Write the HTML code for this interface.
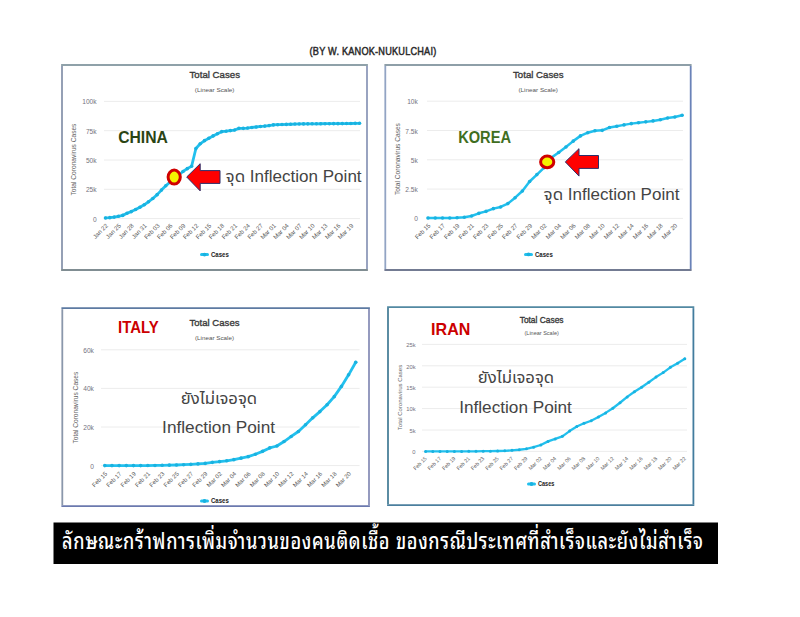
<!DOCTYPE html>
<html><head><meta charset="utf-8"><title>Inflection Point</title>
<style>
html,body{margin:0;padding:0;background:#fff;width:800px;height:617px;overflow:hidden}
svg{display:block}
text{font-family:'Liberation Sans', sans-serif}
</style></head>
<body>
<svg width="800" height="617" viewBox="0 0 800 617">
<text transform="translate(309.6,54.8) scale(0.9,1)" x="0" y="0" font-size="10.2" fill="#2a2a2a" stroke="#2a2a2a" stroke-width="0.45" textLength="140.7" lengthAdjust="spacing">(BY W. KANOK-NUKULCHAI)</text>
<rect x="62" y="65" width="305.00" height="205.00" fill="#fff"/>
<line x1="61.1" y1="65" x2="367.9" y2="65" stroke="#8fa1a9" stroke-width="1.8"/>
<line x1="61.1" y1="270" x2="367.9" y2="270" stroke="#808d92" stroke-width="1.8"/>
<line x1="62" y1="65.9" x2="62" y2="269.1" stroke="#8a96ad" stroke-width="1.8"/>
<line x1="367" y1="65.9" x2="367" y2="269.1" stroke="#8e9aba" stroke-width="1.8"/>
<line x1="104" y1="101.4" x2="360" y2="101.4" stroke="#ececec" stroke-width="1"/>
<text x="96.6" y="104.48" text-anchor="end" font-size="6.6" fill="#74727e">100k</text>
<line x1="104" y1="130.7" x2="360" y2="130.7" stroke="#ececec" stroke-width="1"/>
<text x="96.6" y="133.78" text-anchor="end" font-size="6.6" fill="#74727e">75k</text>
<line x1="104" y1="160.0" x2="360" y2="160.0" stroke="#ececec" stroke-width="1"/>
<text x="96.6" y="163.08" text-anchor="end" font-size="6.6" fill="#74727e">50k</text>
<line x1="104" y1="189.3" x2="360" y2="189.3" stroke="#ececec" stroke-width="1"/>
<text x="96.6" y="192.38" text-anchor="end" font-size="6.6" fill="#74727e">25k</text>
<line x1="104" y1="218.6" x2="360" y2="218.6" stroke="#ececec" stroke-width="1"/>
<text x="96.6" y="221.68" text-anchor="end" font-size="6.6" fill="#74727e">0</text>
<text transform="translate(76.3,159.5) rotate(-90)" text-anchor="middle" font-size="6.6" fill="#666">Total Coronavirus Cases</text>
<text x="189.5" y="77.5" font-size="9.8" fill="#3a3a3a" stroke="#3a3a3a" stroke-width="0.35" textLength="50.5" lengthAdjust="spacingAndGlyphs">Total Cases</text>
<text x="194.8" y="91.6" font-size="6" fill="#555" textLength="39.7" lengthAdjust="spacingAndGlyphs">(Linear Scale)</text>
<path d="M105.50,217.93 L109.81,217.63 L114.11,217.09 L118.41,216.29 L122.72,215.38 L127.03,213.31 L131.33,211.60 L135.63,209.56 L139.94,207.24 L144.25,204.78 L148.55,201.75 L152.85,198.44 L157.16,194.65 L161.47,190.09 L165.77,185.76 L170.07,182.08 L174.38,178.11 L178.69,175.00 L182.99,171.52 L187.29,168.63 L191.60,166.27 L195.91,148.51 L200.21,143.77 L204.51,140.67 L208.82,138.32 L213.12,135.92 L217.43,133.71 L221.73,131.66 L226.04,131.20 L230.34,130.61 L234.65,130.06 L238.95,128.35 L243.26,128.33 L247.56,128.07 L251.87,127.47 L256.17,126.99 L260.48,126.48 L264.78,126.10 L269.09,125.59 L273.39,124.92 L277.70,124.68 L282.00,124.53 L286.31,124.39 L290.62,124.26 L294.92,124.06 L299.23,123.94 L303.53,123.89 L307.83,123.83 L312.14,123.81 L316.44,123.78 L320.75,123.75 L325.05,123.72 L329.36,123.70 L333.66,123.67 L337.97,123.64 L342.27,123.61 L346.58,123.55 L350.88,123.49 L355.19,123.37 L359.50,123.31" fill="none" stroke="#22c0ee" stroke-width="2.8" stroke-linejoin="round" stroke-linecap="round"/>
<circle cx="105.50" cy="217.93" r="1.8" fill="#19b2e0"/>
<circle cx="109.81" cy="217.63" r="1.8" fill="#19b2e0"/>
<circle cx="114.11" cy="217.09" r="1.8" fill="#19b2e0"/>
<circle cx="118.41" cy="216.29" r="1.8" fill="#19b2e0"/>
<circle cx="122.72" cy="215.38" r="1.8" fill="#19b2e0"/>
<circle cx="127.03" cy="213.31" r="1.8" fill="#19b2e0"/>
<circle cx="131.33" cy="211.60" r="1.8" fill="#19b2e0"/>
<circle cx="135.63" cy="209.56" r="1.8" fill="#19b2e0"/>
<circle cx="139.94" cy="207.24" r="1.8" fill="#19b2e0"/>
<circle cx="144.25" cy="204.78" r="1.8" fill="#19b2e0"/>
<circle cx="148.55" cy="201.75" r="1.8" fill="#19b2e0"/>
<circle cx="152.85" cy="198.44" r="1.8" fill="#19b2e0"/>
<circle cx="157.16" cy="194.65" r="1.8" fill="#19b2e0"/>
<circle cx="161.47" cy="190.09" r="1.8" fill="#19b2e0"/>
<circle cx="165.77" cy="185.76" r="1.8" fill="#19b2e0"/>
<circle cx="170.07" cy="182.08" r="1.8" fill="#19b2e0"/>
<circle cx="174.38" cy="178.11" r="1.8" fill="#19b2e0"/>
<circle cx="178.69" cy="175.00" r="1.8" fill="#19b2e0"/>
<circle cx="182.99" cy="171.52" r="1.8" fill="#19b2e0"/>
<circle cx="187.29" cy="168.63" r="1.8" fill="#19b2e0"/>
<circle cx="191.60" cy="166.27" r="1.8" fill="#19b2e0"/>
<circle cx="195.91" cy="148.51" r="1.8" fill="#19b2e0"/>
<circle cx="200.21" cy="143.77" r="1.8" fill="#19b2e0"/>
<circle cx="204.51" cy="140.67" r="1.8" fill="#19b2e0"/>
<circle cx="208.82" cy="138.32" r="1.8" fill="#19b2e0"/>
<circle cx="213.12" cy="135.92" r="1.8" fill="#19b2e0"/>
<circle cx="217.43" cy="133.71" r="1.8" fill="#19b2e0"/>
<circle cx="221.73" cy="131.66" r="1.8" fill="#19b2e0"/>
<circle cx="226.04" cy="131.20" r="1.8" fill="#19b2e0"/>
<circle cx="230.34" cy="130.61" r="1.8" fill="#19b2e0"/>
<circle cx="234.65" cy="130.06" r="1.8" fill="#19b2e0"/>
<circle cx="238.95" cy="128.35" r="1.8" fill="#19b2e0"/>
<circle cx="243.26" cy="128.33" r="1.8" fill="#19b2e0"/>
<circle cx="247.56" cy="128.07" r="1.8" fill="#19b2e0"/>
<circle cx="251.87" cy="127.47" r="1.8" fill="#19b2e0"/>
<circle cx="256.17" cy="126.99" r="1.8" fill="#19b2e0"/>
<circle cx="260.48" cy="126.48" r="1.8" fill="#19b2e0"/>
<circle cx="264.78" cy="126.10" r="1.8" fill="#19b2e0"/>
<circle cx="269.09" cy="125.59" r="1.8" fill="#19b2e0"/>
<circle cx="273.39" cy="124.92" r="1.8" fill="#19b2e0"/>
<circle cx="277.70" cy="124.68" r="1.8" fill="#19b2e0"/>
<circle cx="282.00" cy="124.53" r="1.8" fill="#19b2e0"/>
<circle cx="286.31" cy="124.39" r="1.8" fill="#19b2e0"/>
<circle cx="290.62" cy="124.26" r="1.8" fill="#19b2e0"/>
<circle cx="294.92" cy="124.06" r="1.8" fill="#19b2e0"/>
<circle cx="299.23" cy="123.94" r="1.8" fill="#19b2e0"/>
<circle cx="303.53" cy="123.89" r="1.8" fill="#19b2e0"/>
<circle cx="307.83" cy="123.83" r="1.8" fill="#19b2e0"/>
<circle cx="312.14" cy="123.81" r="1.8" fill="#19b2e0"/>
<circle cx="316.44" cy="123.78" r="1.8" fill="#19b2e0"/>
<circle cx="320.75" cy="123.75" r="1.8" fill="#19b2e0"/>
<circle cx="325.05" cy="123.72" r="1.8" fill="#19b2e0"/>
<circle cx="329.36" cy="123.70" r="1.8" fill="#19b2e0"/>
<circle cx="333.66" cy="123.67" r="1.8" fill="#19b2e0"/>
<circle cx="337.97" cy="123.64" r="1.8" fill="#19b2e0"/>
<circle cx="342.27" cy="123.61" r="1.8" fill="#19b2e0"/>
<circle cx="346.58" cy="123.55" r="1.8" fill="#19b2e0"/>
<circle cx="350.88" cy="123.49" r="1.8" fill="#19b2e0"/>
<circle cx="355.19" cy="123.37" r="1.8" fill="#19b2e0"/>
<circle cx="359.50" cy="123.31" r="1.8" fill="#19b2e0"/>
<text transform="translate(108.40,226.2) rotate(-45)" text-anchor="end" font-size="6.1" fill="#555">Jan 22</text>
<text transform="translate(121.31,226.2) rotate(-45)" text-anchor="end" font-size="6.1" fill="#555">Jan 25</text>
<text transform="translate(134.23,226.2) rotate(-45)" text-anchor="end" font-size="6.1" fill="#555">Jan 28</text>
<text transform="translate(147.15,226.2) rotate(-45)" text-anchor="end" font-size="6.1" fill="#555">Jan 31</text>
<text transform="translate(160.06,226.2) rotate(-45)" text-anchor="end" font-size="6.1" fill="#555">Feb 03</text>
<text transform="translate(172.97,226.2) rotate(-45)" text-anchor="end" font-size="6.1" fill="#555">Feb 06</text>
<text transform="translate(185.89,226.2) rotate(-45)" text-anchor="end" font-size="6.1" fill="#555">Feb 09</text>
<text transform="translate(198.81,226.2) rotate(-45)" text-anchor="end" font-size="6.1" fill="#555">Feb 12</text>
<text transform="translate(211.72,226.2) rotate(-45)" text-anchor="end" font-size="6.1" fill="#555">Feb 15</text>
<text transform="translate(224.63,226.2) rotate(-45)" text-anchor="end" font-size="6.1" fill="#555">Feb 18</text>
<text transform="translate(237.55,226.2) rotate(-45)" text-anchor="end" font-size="6.1" fill="#555">Feb 21</text>
<text transform="translate(250.47,226.2) rotate(-45)" text-anchor="end" font-size="6.1" fill="#555">Feb 24</text>
<text transform="translate(263.38,226.2) rotate(-45)" text-anchor="end" font-size="6.1" fill="#555">Feb 27</text>
<text transform="translate(276.29,226.2) rotate(-45)" text-anchor="end" font-size="6.1" fill="#555">Mar 01</text>
<text transform="translate(289.21,226.2) rotate(-45)" text-anchor="end" font-size="6.1" fill="#555">Mar 04</text>
<text transform="translate(302.12,226.2) rotate(-45)" text-anchor="end" font-size="6.1" fill="#555">Mar 07</text>
<text transform="translate(315.04,226.2) rotate(-45)" text-anchor="end" font-size="6.1" fill="#555">Mar 10</text>
<text transform="translate(327.95,226.2) rotate(-45)" text-anchor="end" font-size="6.1" fill="#555">Mar 13</text>
<text transform="translate(340.87,226.2) rotate(-45)" text-anchor="end" font-size="6.1" fill="#555">Mar 16</text>
<text transform="translate(353.78,226.2) rotate(-45)" text-anchor="end" font-size="6.1" fill="#555">Mar 19</text>
<line x1="201.5" y1="254.6" x2="207.5" y2="254.6" stroke="#22c0ee" stroke-width="3" stroke-linecap="round"/>
<circle cx="204.5" cy="254.6" r="1.9" fill="#19b2e0"/>
<text x="211.0" y="257.0" font-size="7.0" font-weight="bold" fill="#222" textLength="17.8" lengthAdjust="spacingAndGlyphs">Cases</text>
<rect x="385.3" y="65" width="305.40" height="205.00" fill="#fff"/>
<line x1="384.40000000000003" y1="65" x2="691.6" y2="65" stroke="#8e9fa8" stroke-width="1.8"/>
<line x1="384.40000000000003" y1="270" x2="691.6" y2="270" stroke="#737b92" stroke-width="1.8"/>
<line x1="385.3" y1="65.9" x2="385.3" y2="269.1" stroke="#92a4c4" stroke-width="1.8"/>
<line x1="690.7" y1="65.9" x2="690.7" y2="269.1" stroke="#6a82b8" stroke-width="1.8"/>
<line x1="427" y1="101.2" x2="683" y2="101.2" stroke="#ececec" stroke-width="1"/>
<text x="417.8" y="104.28" text-anchor="end" font-size="6.6" fill="#74727e">10k</text>
<line x1="427" y1="130.5" x2="683" y2="130.5" stroke="#ececec" stroke-width="1"/>
<text x="417.8" y="133.58" text-anchor="end" font-size="6.6" fill="#74727e">7.5k</text>
<line x1="427" y1="159.8" x2="683" y2="159.8" stroke="#ececec" stroke-width="1"/>
<text x="417.8" y="162.88" text-anchor="end" font-size="6.6" fill="#74727e">5k</text>
<line x1="427" y1="189.1" x2="683" y2="189.1" stroke="#ececec" stroke-width="1"/>
<text x="417.8" y="192.18" text-anchor="end" font-size="6.6" fill="#74727e">2.5k</text>
<line x1="427" y1="218.4" x2="683" y2="218.4" stroke="#ececec" stroke-width="1"/>
<text x="417.8" y="221.48" text-anchor="end" font-size="6.6" fill="#74727e">0</text>
<text transform="translate(399.6,159) rotate(-90)" text-anchor="middle" font-size="6.6" fill="#666">Total Coronavirus Cases</text>
<text x="513" y="77.5" font-size="9.8" fill="#3a3a3a" stroke="#3a3a3a" stroke-width="0.35" textLength="50.5" lengthAdjust="spacingAndGlyphs">Total Cases</text>
<text x="518.5" y="91.6" font-size="6" fill="#555" textLength="39.3" lengthAdjust="spacingAndGlyphs">(Linear Scale)</text>
<path d="M428.00,218.07 L435.26,218.06 L442.52,218.05 L449.78,218.04 L457.04,217.80 L464.30,217.18 L471.56,216.01 L478.82,213.33 L486.08,211.34 L493.34,208.64 L500.60,206.95 L507.86,203.62 L515.12,197.70 L522.38,191.01 L529.64,181.48 L536.90,174.61 L544.16,167.59 L551.42,157.62 L558.68,152.52 L565.94,147.05 L573.20,141.13 L580.46,135.88 L587.72,132.68 L594.98,130.76 L602.24,130.35 L609.50,127.51 L616.76,126.18 L624.02,124.89 L631.28,123.63 L638.54,122.74 L645.80,121.87 L653.06,120.89 L660.32,119.80 L667.58,118.02 L674.84,117.00 L682.10,115.28" fill="none" stroke="#22c0ee" stroke-width="2.5" stroke-linejoin="round" stroke-linecap="round"/>
<circle cx="428.00" cy="218.07" r="1.8" fill="#19b2e0"/>
<circle cx="435.26" cy="218.06" r="1.8" fill="#19b2e0"/>
<circle cx="442.52" cy="218.05" r="1.8" fill="#19b2e0"/>
<circle cx="449.78" cy="218.04" r="1.8" fill="#19b2e0"/>
<circle cx="457.04" cy="217.80" r="1.8" fill="#19b2e0"/>
<circle cx="464.30" cy="217.18" r="1.8" fill="#19b2e0"/>
<circle cx="471.56" cy="216.01" r="1.8" fill="#19b2e0"/>
<circle cx="478.82" cy="213.33" r="1.8" fill="#19b2e0"/>
<circle cx="486.08" cy="211.34" r="1.8" fill="#19b2e0"/>
<circle cx="493.34" cy="208.64" r="1.8" fill="#19b2e0"/>
<circle cx="500.60" cy="206.95" r="1.8" fill="#19b2e0"/>
<circle cx="507.86" cy="203.62" r="1.8" fill="#19b2e0"/>
<circle cx="515.12" cy="197.70" r="1.8" fill="#19b2e0"/>
<circle cx="522.38" cy="191.01" r="1.8" fill="#19b2e0"/>
<circle cx="529.64" cy="181.48" r="1.8" fill="#19b2e0"/>
<circle cx="536.90" cy="174.61" r="1.8" fill="#19b2e0"/>
<circle cx="544.16" cy="167.59" r="1.8" fill="#19b2e0"/>
<circle cx="551.42" cy="157.62" r="1.8" fill="#19b2e0"/>
<circle cx="558.68" cy="152.52" r="1.8" fill="#19b2e0"/>
<circle cx="565.94" cy="147.05" r="1.8" fill="#19b2e0"/>
<circle cx="573.20" cy="141.13" r="1.8" fill="#19b2e0"/>
<circle cx="580.46" cy="135.88" r="1.8" fill="#19b2e0"/>
<circle cx="587.72" cy="132.68" r="1.8" fill="#19b2e0"/>
<circle cx="594.98" cy="130.76" r="1.8" fill="#19b2e0"/>
<circle cx="602.24" cy="130.35" r="1.8" fill="#19b2e0"/>
<circle cx="609.50" cy="127.51" r="1.8" fill="#19b2e0"/>
<circle cx="616.76" cy="126.18" r="1.8" fill="#19b2e0"/>
<circle cx="624.02" cy="124.89" r="1.8" fill="#19b2e0"/>
<circle cx="631.28" cy="123.63" r="1.8" fill="#19b2e0"/>
<circle cx="638.54" cy="122.74" r="1.8" fill="#19b2e0"/>
<circle cx="645.80" cy="121.87" r="1.8" fill="#19b2e0"/>
<circle cx="653.06" cy="120.89" r="1.8" fill="#19b2e0"/>
<circle cx="660.32" cy="119.80" r="1.8" fill="#19b2e0"/>
<circle cx="667.58" cy="118.02" r="1.8" fill="#19b2e0"/>
<circle cx="674.84" cy="117.00" r="1.8" fill="#19b2e0"/>
<circle cx="682.10" cy="115.28" r="1.8" fill="#19b2e0"/>
<text transform="translate(430.90,226.0) rotate(-45)" text-anchor="end" font-size="6.1" fill="#555">Feb 15</text>
<text transform="translate(445.42,226.0) rotate(-45)" text-anchor="end" font-size="6.1" fill="#555">Feb 17</text>
<text transform="translate(459.94,226.0) rotate(-45)" text-anchor="end" font-size="6.1" fill="#555">Feb 19</text>
<text transform="translate(474.46,226.0) rotate(-45)" text-anchor="end" font-size="6.1" fill="#555">Feb 21</text>
<text transform="translate(488.98,226.0) rotate(-45)" text-anchor="end" font-size="6.1" fill="#555">Feb 23</text>
<text transform="translate(503.50,226.0) rotate(-45)" text-anchor="end" font-size="6.1" fill="#555">Feb 25</text>
<text transform="translate(518.02,226.0) rotate(-45)" text-anchor="end" font-size="6.1" fill="#555">Feb 27</text>
<text transform="translate(532.54,226.0) rotate(-45)" text-anchor="end" font-size="6.1" fill="#555">Feb 29</text>
<text transform="translate(547.06,226.0) rotate(-45)" text-anchor="end" font-size="6.1" fill="#555">Mar 02</text>
<text transform="translate(561.58,226.0) rotate(-45)" text-anchor="end" font-size="6.1" fill="#555">Mar 04</text>
<text transform="translate(576.10,226.0) rotate(-45)" text-anchor="end" font-size="6.1" fill="#555">Mar 06</text>
<text transform="translate(590.62,226.0) rotate(-45)" text-anchor="end" font-size="6.1" fill="#555">Mar 08</text>
<text transform="translate(605.14,226.0) rotate(-45)" text-anchor="end" font-size="6.1" fill="#555">Mar 10</text>
<text transform="translate(619.66,226.0) rotate(-45)" text-anchor="end" font-size="6.1" fill="#555">Mar 12</text>
<text transform="translate(634.18,226.0) rotate(-45)" text-anchor="end" font-size="6.1" fill="#555">Mar 14</text>
<text transform="translate(648.70,226.0) rotate(-45)" text-anchor="end" font-size="6.1" fill="#555">Mar 16</text>
<text transform="translate(663.22,226.0) rotate(-45)" text-anchor="end" font-size="6.1" fill="#555">Mar 18</text>
<text transform="translate(677.74,226.0) rotate(-45)" text-anchor="end" font-size="6.1" fill="#555">Mar 20</text>
<line x1="525.5" y1="254.4" x2="531.5" y2="254.4" stroke="#22c0ee" stroke-width="3" stroke-linecap="round"/>
<circle cx="528.5" cy="254.4" r="1.9" fill="#19b2e0"/>
<text x="535.0" y="256.8" font-size="7.0" font-weight="bold" fill="#222" textLength="17.8" lengthAdjust="spacingAndGlyphs">Cases</text>
<rect x="62.3" y="308.2" width="306.70" height="198.00" fill="#fff"/>
<line x1="61.4" y1="308.2" x2="369.9" y2="308.2" stroke="#5d7aa2" stroke-width="1.8"/>
<line x1="61.4" y1="506.2" x2="369.9" y2="506.2" stroke="#6b79ae" stroke-width="1.8"/>
<line x1="62.3" y1="309.09999999999997" x2="62.3" y2="505.3" stroke="#8a97ab" stroke-width="1.8"/>
<line x1="369" y1="309.09999999999997" x2="369" y2="505.3" stroke="#8a90b8" stroke-width="1.8"/>
<line x1="101" y1="349.8" x2="359.6" y2="349.8" stroke="#ececec" stroke-width="1"/>
<text x="93.9" y="352.88" text-anchor="end" font-size="6.6" fill="#74727e">60k</text>
<line x1="101" y1="388.4" x2="359.6" y2="388.4" stroke="#ececec" stroke-width="1"/>
<text x="93.9" y="391.48" text-anchor="end" font-size="6.6" fill="#74727e">40k</text>
<line x1="101" y1="427.0" x2="359.6" y2="427.0" stroke="#ececec" stroke-width="1"/>
<text x="93.9" y="430.08" text-anchor="end" font-size="6.6" fill="#74727e">20k</text>
<line x1="101" y1="465.6" x2="359.6" y2="465.6" stroke="#ececec" stroke-width="1"/>
<text x="93.9" y="468.68" text-anchor="end" font-size="6.6" fill="#74727e">0</text>
<text transform="translate(78.0,407.6) rotate(-90)" text-anchor="middle" font-size="6.6" fill="#666">Total Coronavirus Cases</text>
<text x="189.5" y="326" font-size="9.8" fill="#3a3a3a" stroke="#3a3a3a" stroke-width="0.35" textLength="50" lengthAdjust="spacingAndGlyphs">Total Cases</text>
<text x="195" y="340.3" font-size="6" fill="#555" textLength="39" lengthAdjust="spacingAndGlyphs">(Linear Scale)</text>
<path d="M104.80,465.59 L111.97,465.59 L119.14,465.59 L126.31,465.59 L133.48,465.59 L140.65,465.59 L147.82,465.56 L154.99,465.45 L162.16,465.30 L169.33,465.16 L176.50,464.98 L183.67,464.69 L190.84,464.34 L198.01,463.88 L205.18,463.42 L212.35,462.33 L219.52,461.67 L226.69,460.77 L233.86,459.64 L241.03,458.15 L248.20,456.65 L255.37,454.25 L262.54,451.37 L269.71,447.90 L276.88,446.01 L284.05,441.55 L291.22,436.43 L298.39,431.52 L305.56,424.77 L312.73,417.84 L319.90,411.60 L327.07,404.79 L334.24,396.67 L341.41,386.40 L348.58,374.85 L355.75,362.19" fill="none" stroke="#22c0ee" stroke-width="2.8" stroke-linejoin="round" stroke-linecap="round"/>
<circle cx="104.80" cy="465.59" r="1.8" fill="#19b2e0"/>
<circle cx="111.97" cy="465.59" r="1.8" fill="#19b2e0"/>
<circle cx="119.14" cy="465.59" r="1.8" fill="#19b2e0"/>
<circle cx="126.31" cy="465.59" r="1.8" fill="#19b2e0"/>
<circle cx="133.48" cy="465.59" r="1.8" fill="#19b2e0"/>
<circle cx="140.65" cy="465.59" r="1.8" fill="#19b2e0"/>
<circle cx="147.82" cy="465.56" r="1.8" fill="#19b2e0"/>
<circle cx="154.99" cy="465.45" r="1.8" fill="#19b2e0"/>
<circle cx="162.16" cy="465.30" r="1.8" fill="#19b2e0"/>
<circle cx="169.33" cy="465.16" r="1.8" fill="#19b2e0"/>
<circle cx="176.50" cy="464.98" r="1.8" fill="#19b2e0"/>
<circle cx="183.67" cy="464.69" r="1.8" fill="#19b2e0"/>
<circle cx="190.84" cy="464.34" r="1.8" fill="#19b2e0"/>
<circle cx="198.01" cy="463.88" r="1.8" fill="#19b2e0"/>
<circle cx="205.18" cy="463.42" r="1.8" fill="#19b2e0"/>
<circle cx="212.35" cy="462.33" r="1.8" fill="#19b2e0"/>
<circle cx="219.52" cy="461.67" r="1.8" fill="#19b2e0"/>
<circle cx="226.69" cy="460.77" r="1.8" fill="#19b2e0"/>
<circle cx="233.86" cy="459.64" r="1.8" fill="#19b2e0"/>
<circle cx="241.03" cy="458.15" r="1.8" fill="#19b2e0"/>
<circle cx="248.20" cy="456.65" r="1.8" fill="#19b2e0"/>
<circle cx="255.37" cy="454.25" r="1.8" fill="#19b2e0"/>
<circle cx="262.54" cy="451.37" r="1.8" fill="#19b2e0"/>
<circle cx="269.71" cy="447.90" r="1.8" fill="#19b2e0"/>
<circle cx="276.88" cy="446.01" r="1.8" fill="#19b2e0"/>
<circle cx="284.05" cy="441.55" r="1.8" fill="#19b2e0"/>
<circle cx="291.22" cy="436.43" r="1.8" fill="#19b2e0"/>
<circle cx="298.39" cy="431.52" r="1.8" fill="#19b2e0"/>
<circle cx="305.56" cy="424.77" r="1.8" fill="#19b2e0"/>
<circle cx="312.73" cy="417.84" r="1.8" fill="#19b2e0"/>
<circle cx="319.90" cy="411.60" r="1.8" fill="#19b2e0"/>
<circle cx="327.07" cy="404.79" r="1.8" fill="#19b2e0"/>
<circle cx="334.24" cy="396.67" r="1.8" fill="#19b2e0"/>
<circle cx="341.41" cy="386.40" r="1.8" fill="#19b2e0"/>
<circle cx="348.58" cy="374.85" r="1.8" fill="#19b2e0"/>
<circle cx="355.75" cy="362.19" r="1.8" fill="#19b2e0"/>
<text transform="translate(107.60,474.2) rotate(-45)" text-anchor="end" font-size="6.0" fill="#555">Feb 15</text>
<text transform="translate(121.94,474.2) rotate(-45)" text-anchor="end" font-size="6.0" fill="#555">Feb 17</text>
<text transform="translate(136.28,474.2) rotate(-45)" text-anchor="end" font-size="6.0" fill="#555">Feb 19</text>
<text transform="translate(150.62,474.2) rotate(-45)" text-anchor="end" font-size="6.0" fill="#555">Feb 21</text>
<text transform="translate(164.96,474.2) rotate(-45)" text-anchor="end" font-size="6.0" fill="#555">Feb 23</text>
<text transform="translate(179.30,474.2) rotate(-45)" text-anchor="end" font-size="6.0" fill="#555">Feb 25</text>
<text transform="translate(193.64,474.2) rotate(-45)" text-anchor="end" font-size="6.0" fill="#555">Feb 27</text>
<text transform="translate(207.98,474.2) rotate(-45)" text-anchor="end" font-size="6.0" fill="#555">Feb 29</text>
<text transform="translate(222.32,474.2) rotate(-45)" text-anchor="end" font-size="6.0" fill="#555">Mar 02</text>
<text transform="translate(236.66,474.2) rotate(-45)" text-anchor="end" font-size="6.0" fill="#555">Mar 04</text>
<text transform="translate(251.00,474.2) rotate(-45)" text-anchor="end" font-size="6.0" fill="#555">Mar 06</text>
<text transform="translate(265.34,474.2) rotate(-45)" text-anchor="end" font-size="6.0" fill="#555">Mar 08</text>
<text transform="translate(279.68,474.2) rotate(-45)" text-anchor="end" font-size="6.0" fill="#555">Mar 10</text>
<text transform="translate(294.02,474.2) rotate(-45)" text-anchor="end" font-size="6.0" fill="#555">Mar 12</text>
<text transform="translate(308.36,474.2) rotate(-45)" text-anchor="end" font-size="6.0" fill="#555">Mar 14</text>
<text transform="translate(322.70,474.2) rotate(-45)" text-anchor="end" font-size="6.0" fill="#555">Mar 16</text>
<text transform="translate(337.04,474.2) rotate(-45)" text-anchor="end" font-size="6.0" fill="#555">Mar 18</text>
<text transform="translate(351.38,474.2) rotate(-45)" text-anchor="end" font-size="6.0" fill="#555">Mar 20</text>
<line x1="201.5" y1="501" x2="207.5" y2="501" stroke="#22c0ee" stroke-width="3" stroke-linecap="round"/>
<circle cx="204.5" cy="501" r="1.9" fill="#19b2e0"/>
<text x="211.0" y="503.4" font-size="7.0" font-weight="bold" fill="#222" textLength="17.8" lengthAdjust="spacingAndGlyphs">Cases</text>
<rect x="388" y="307.2" width="305.40" height="198.00" fill="#fff"/>
<line x1="387.1" y1="307.2" x2="694.3" y2="307.2" stroke="#5289a2" stroke-width="1.8"/>
<line x1="387.1" y1="505.2" x2="694.3" y2="505.2" stroke="#4b7f9e" stroke-width="1.8"/>
<line x1="388" y1="308.09999999999997" x2="388" y2="504.3" stroke="#4a8099" stroke-width="1.8"/>
<line x1="693.4" y1="308.09999999999997" x2="693.4" y2="504.3" stroke="#427c9e" stroke-width="1.8"/>
<line x1="422" y1="344.4" x2="687" y2="344.4" stroke="#ececec" stroke-width="1"/>
<text x="415.6" y="347.19" text-anchor="end" font-size="5.8" fill="#74727e">25k</text>
<line x1="422" y1="365.8" x2="687" y2="365.8" stroke="#ececec" stroke-width="1"/>
<text x="415.6" y="368.59" text-anchor="end" font-size="5.8" fill="#74727e">20k</text>
<line x1="422" y1="387.2" x2="687" y2="387.2" stroke="#ececec" stroke-width="1"/>
<text x="415.6" y="389.99" text-anchor="end" font-size="5.8" fill="#74727e">15k</text>
<line x1="422" y1="408.6" x2="687" y2="408.6" stroke="#ececec" stroke-width="1"/>
<text x="415.6" y="411.39" text-anchor="end" font-size="5.8" fill="#74727e">10k</text>
<line x1="422" y1="430.0" x2="687" y2="430.0" stroke="#ececec" stroke-width="1"/>
<text x="415.6" y="432.79" text-anchor="end" font-size="5.8" fill="#74727e">5k</text>
<line x1="422" y1="451.4" x2="687" y2="451.4" stroke="#ececec" stroke-width="1"/>
<text x="415.6" y="454.19" text-anchor="end" font-size="5.8" fill="#74727e">0</text>
<text transform="translate(401.6,397.5) rotate(-90)" text-anchor="middle" font-size="6.0" fill="#666">Total Coronavirus Cases</text>
<text x="519.7" y="322.5" font-size="8.8" fill="#3a3a3a" stroke="#3a3a3a" stroke-width="0.35" textLength="43.8" lengthAdjust="spacingAndGlyphs">Total Cases</text>
<text x="524.5" y="335.3" font-size="5.4" fill="#555" textLength="34.3" lengthAdjust="spacingAndGlyphs">(Linear Scale)</text>
<path d="M425.60,451.40 L432.80,451.40 L440.00,451.40 L447.20,451.40 L454.40,451.39 L461.60,451.38 L468.80,451.32 L476.00,451.28 L483.20,451.22 L490.40,451.14 L497.60,450.99 L504.80,450.81 L512.00,450.35 L519.20,449.74 L526.40,448.86 L533.60,447.21 L540.80,444.98 L548.00,441.40 L555.20,438.89 L562.40,436.36 L569.60,431.08 L576.80,426.48 L584.00,423.30 L591.20,420.75 L598.40,416.98 L605.60,412.88 L612.80,408.28 L620.00,402.76 L627.20,396.92 L634.40,391.75 L641.60,387.24 L648.80,382.20 L656.00,377.09 L663.20,372.62 L670.40,367.32 L677.60,363.19 L684.80,358.79" fill="none" stroke="#22c0ee" stroke-width="2.3" stroke-linejoin="round" stroke-linecap="round"/>
<circle cx="425.60" cy="451.40" r="1.5" fill="#19b2e0"/>
<circle cx="432.80" cy="451.40" r="1.5" fill="#19b2e0"/>
<circle cx="440.00" cy="451.40" r="1.5" fill="#19b2e0"/>
<circle cx="447.20" cy="451.40" r="1.5" fill="#19b2e0"/>
<circle cx="454.40" cy="451.39" r="1.5" fill="#19b2e0"/>
<circle cx="461.60" cy="451.38" r="1.5" fill="#19b2e0"/>
<circle cx="468.80" cy="451.32" r="1.5" fill="#19b2e0"/>
<circle cx="476.00" cy="451.28" r="1.5" fill="#19b2e0"/>
<circle cx="483.20" cy="451.22" r="1.5" fill="#19b2e0"/>
<circle cx="490.40" cy="451.14" r="1.5" fill="#19b2e0"/>
<circle cx="497.60" cy="450.99" r="1.5" fill="#19b2e0"/>
<circle cx="504.80" cy="450.81" r="1.5" fill="#19b2e0"/>
<circle cx="512.00" cy="450.35" r="1.5" fill="#19b2e0"/>
<circle cx="519.20" cy="449.74" r="1.5" fill="#19b2e0"/>
<circle cx="526.40" cy="448.86" r="1.5" fill="#19b2e0"/>
<circle cx="533.60" cy="447.21" r="1.5" fill="#19b2e0"/>
<circle cx="540.80" cy="444.98" r="1.5" fill="#19b2e0"/>
<circle cx="548.00" cy="441.40" r="1.5" fill="#19b2e0"/>
<circle cx="555.20" cy="438.89" r="1.5" fill="#19b2e0"/>
<circle cx="562.40" cy="436.36" r="1.5" fill="#19b2e0"/>
<circle cx="569.60" cy="431.08" r="1.5" fill="#19b2e0"/>
<circle cx="576.80" cy="426.48" r="1.5" fill="#19b2e0"/>
<circle cx="584.00" cy="423.30" r="1.5" fill="#19b2e0"/>
<circle cx="591.20" cy="420.75" r="1.5" fill="#19b2e0"/>
<circle cx="598.40" cy="416.98" r="1.5" fill="#19b2e0"/>
<circle cx="605.60" cy="412.88" r="1.5" fill="#19b2e0"/>
<circle cx="612.80" cy="408.28" r="1.5" fill="#19b2e0"/>
<circle cx="620.00" cy="402.76" r="1.5" fill="#19b2e0"/>
<circle cx="627.20" cy="396.92" r="1.5" fill="#19b2e0"/>
<circle cx="634.40" cy="391.75" r="1.5" fill="#19b2e0"/>
<circle cx="641.60" cy="387.24" r="1.5" fill="#19b2e0"/>
<circle cx="648.80" cy="382.20" r="1.5" fill="#19b2e0"/>
<circle cx="656.00" cy="377.09" r="1.5" fill="#19b2e0"/>
<circle cx="663.20" cy="372.62" r="1.5" fill="#19b2e0"/>
<circle cx="670.40" cy="367.32" r="1.5" fill="#19b2e0"/>
<circle cx="677.60" cy="363.19" r="1.5" fill="#19b2e0"/>
<circle cx="684.80" cy="358.79" r="1.5" fill="#19b2e0"/>
<text transform="translate(427.10,458.9) rotate(-45)" text-anchor="end" font-size="5.3" fill="#555">Feb 15</text>
<text transform="translate(441.50,458.9) rotate(-45)" text-anchor="end" font-size="5.3" fill="#555">Feb 17</text>
<text transform="translate(455.90,458.9) rotate(-45)" text-anchor="end" font-size="5.3" fill="#555">Feb 19</text>
<text transform="translate(470.30,458.9) rotate(-45)" text-anchor="end" font-size="5.3" fill="#555">Feb 21</text>
<text transform="translate(484.70,458.9) rotate(-45)" text-anchor="end" font-size="5.3" fill="#555">Feb 23</text>
<text transform="translate(499.10,458.9) rotate(-45)" text-anchor="end" font-size="5.3" fill="#555">Feb 25</text>
<text transform="translate(513.50,458.9) rotate(-45)" text-anchor="end" font-size="5.3" fill="#555">Feb 27</text>
<text transform="translate(527.90,458.9) rotate(-45)" text-anchor="end" font-size="5.3" fill="#555">Feb 29</text>
<text transform="translate(542.30,458.9) rotate(-45)" text-anchor="end" font-size="5.3" fill="#555">Mar 02</text>
<text transform="translate(556.70,458.9) rotate(-45)" text-anchor="end" font-size="5.3" fill="#555">Mar 04</text>
<text transform="translate(571.10,458.9) rotate(-45)" text-anchor="end" font-size="5.3" fill="#555">Mar 06</text>
<text transform="translate(585.50,458.9) rotate(-45)" text-anchor="end" font-size="5.3" fill="#555">Mar 08</text>
<text transform="translate(599.90,458.9) rotate(-45)" text-anchor="end" font-size="5.3" fill="#555">Mar 10</text>
<text transform="translate(614.30,458.9) rotate(-45)" text-anchor="end" font-size="5.3" fill="#555">Mar 12</text>
<text transform="translate(628.70,458.9) rotate(-45)" text-anchor="end" font-size="5.3" fill="#555">Mar 14</text>
<text transform="translate(643.10,458.9) rotate(-45)" text-anchor="end" font-size="5.3" fill="#555">Mar 16</text>
<text transform="translate(657.50,458.9) rotate(-45)" text-anchor="end" font-size="5.3" fill="#555">Mar 18</text>
<text transform="translate(671.90,458.9) rotate(-45)" text-anchor="end" font-size="5.3" fill="#555">Mar 20</text>
<text transform="translate(686.30,458.9) rotate(-45)" text-anchor="end" font-size="5.3" fill="#555">Mar 22</text>
<line x1="528.5" y1="484" x2="534.5" y2="484" stroke="#22c0ee" stroke-width="3" stroke-linecap="round"/>
<circle cx="531.5" cy="484" r="1.9" fill="#19b2e0"/>
<text x="538.0" y="486.4" font-size="6.4" font-weight="bold" fill="#222" textLength="16.4" lengthAdjust="spacingAndGlyphs">Cases</text>
<text x="118.2" y="142.9" font-size="16" font-weight="bold" fill="#2b4414" textLength="49.7" lengthAdjust="spacingAndGlyphs">CHINA</text>
<ellipse cx="174.2" cy="177.1" rx="6.10" ry="7.00" fill="#f4f400" stroke="#d00000" stroke-width="3"/>
<path d="M186.7,177 L200.2,163.7 L200.2,170.6 L220,170.6 L220,183.4 L200.2,183.4 L200.2,190.9 Z" fill="#ff0000" stroke="#2b2f6b" stroke-width="1" stroke-linejoin="miter"/>
<text x="225.6" y="182.3" font-size="16" fill="#444" style="font-family:'Liberation Sans', 'Noto Sans Thai', 'Noto Sans Thai Looped', 'Loma', sans-serif" textLength="136" lengthAdjust="spacingAndGlyphs">จุด Inflection Point</text>
<text x="458.2" y="142.9" font-size="16" font-weight="bold" fill="#3f6e1f" textLength="52.8" lengthAdjust="spacingAndGlyphs">KOREA</text>
<ellipse cx="547.2" cy="161.9" rx="6.60" ry="5.80" fill="#f4f400" stroke="#d00000" stroke-width="3"/>
<path d="M565.3,161.9 L579,148.7 L579,155.5 L598.5,155.5 L598.5,168.4 L579,168.4 L579,176.1 Z" fill="#ff0000" stroke="#2b2f6b" stroke-width="1" stroke-linejoin="miter"/>
<text x="543.6" y="199.8" font-size="16" fill="#444" style="font-family:'Liberation Sans', 'Noto Sans Thai', 'Noto Sans Thai Looped', 'Loma', sans-serif" textLength="135.8" lengthAdjust="spacingAndGlyphs">จุด Inflection Point</text>
<text x="118.1" y="333.2" font-size="16.2" font-weight="bold" fill="#cc0000" textLength="40.6" lengthAdjust="spacingAndGlyphs">ITALY</text>
<text x="180.8" y="403.9" font-size="16" fill="#444" style="font-family:'Liberation Sans', 'Noto Sans Thai', 'Noto Sans Thai Looped', 'Loma', sans-serif" textLength="76.3" lengthAdjust="spacingAndGlyphs">ยังไม่เจอจุด</text>
<text x="162.1" y="433.1" font-size="16" fill="#444" style="font-family:'Liberation Sans', 'Noto Sans Thai', 'Noto Sans Thai Looped', 'Loma', sans-serif" textLength="112.9" lengthAdjust="spacingAndGlyphs">Inflection Point</text>
<text x="431.1" y="334.7" font-size="16.5" font-weight="bold" fill="#cc0000" textLength="39.3" lengthAdjust="spacingAndGlyphs">IRAN</text>
<text x="477.8" y="382.7" font-size="16" fill="#444" style="font-family:'Liberation Sans', 'Noto Sans Thai', 'Noto Sans Thai Looped', 'Loma', sans-serif" textLength="76.3" lengthAdjust="spacingAndGlyphs">ยังไม่เจอจุด</text>
<text x="459.2" y="412.6" font-size="16" fill="#444" style="font-family:'Liberation Sans', 'Noto Sans Thai', 'Noto Sans Thai Looped', 'Loma', sans-serif" textLength="112.7" lengthAdjust="spacingAndGlyphs">Inflection Point</text>
<rect x="53.5" y="522.5" width="664.5" height="41.5" fill="#000"/>
<text transform="translate(62,549.3) scale(0.78,1)" x="0" y="0" font-size="23.2" fill="#fff" font-weight="500" style="font-family:'Liberation Sans', 'Noto Sans Thai Looped', 'Noto Sans Thai', 'Loma', sans-serif" textLength="821.8" lengthAdjust="spacing">ลักษณะกร้าฟการเพิ่มจำนวนของคนติดเชื้อ ของกรณีประเทศที่สำเร็จและยังไม่สำเร็จ</text>
</svg>
</body></html>
